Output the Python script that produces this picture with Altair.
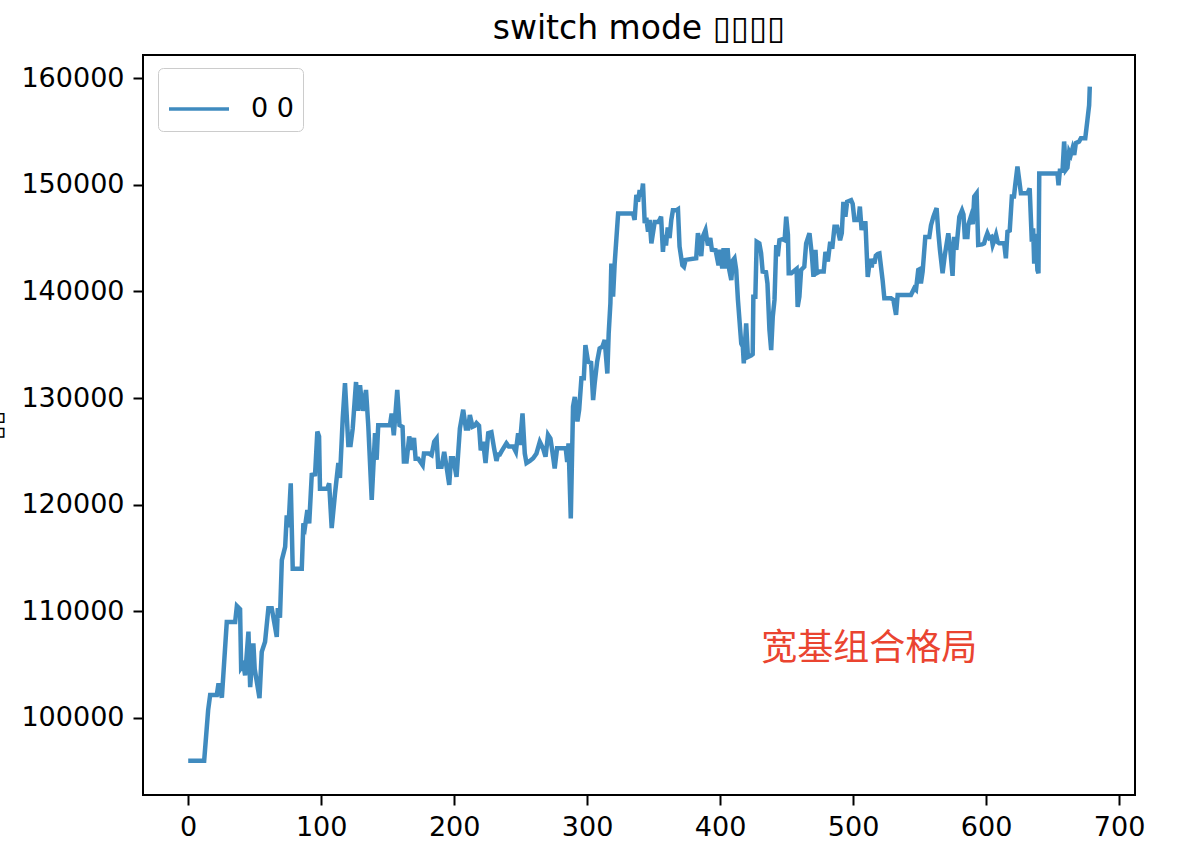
import altair as alt
import pandas as pd

# ---- data ----
steps = [0, 12, 15, 16.5, 21.5, 22.8, 25.3, 29, 35.3, 36.6, 39, 39.8, 41.5, 42.8, 45.3, 46.6, 49, 50, 53.6, 55.3,
         57.8, 60.3, 62.8, 65.3, 66.6, 67.4, 69, 70.4, 72.9, 74.1, 75.4, 77.1, 78.6, 85.4, 86.6, 87.8, 89.6, 91, 92.9, 95.4,
         97.1, 98.4, 99.1, 104.6, 106, 107.9, 110.4, 112.9, 114.1, 116.2, 117.9, 120.4, 122.1, 123.7, 126.2, 127.5, 129.2, 131.2, 133.7, 135.4,
         138, 140.5, 141.7, 142.9, 151.7, 153, 154.6, 157.2, 158.9, 161.2, 162.2, 164.2, 166.2, 168, 169.8, 171, 173, 176.3, 177.3, 181,
         183, 185, 186.8, 188, 190.5, 192.5, 194.3, 196.3, 197.6, 199.3, 200.5, 201.8, 204.3, 206.8, 208.8, 210.5, 211.8, 213.8, 215.5, 216.8,
         218.7, 220, 221.8, 223.6, 225.6, 228, 230, 231.8, 233, 234.3, 235.6, 239.3, 241.1, 244.4, 246.4, 248.1, 249.4, 251.4, 253.1, 254.4,
         256.9, 259.4, 261.9, 264.4, 266.9, 268.7, 270.6, 272.4, 274.4, 275.6, 277.4, 279.4, 283.9, 285, 286, 287.7, 289.4, 290.7, 292, 292.7,
         294, 295.7, 297.5, 298.7, 300.7, 303, 304.5, 305.7, 307.5, 309.4, 311.5, 313.2, 315.2, 316.2, 317.5, 318.2, 319.5, 320.7, 323.3, 334.5,
         335.7, 337, 338.3, 339.5, 340.8, 342, 343.3, 344.5, 345.8, 347, 348.3, 350.8, 353.3, 354.5, 355.6, 357, 358, 359.3, 360.6, 362,
         363.3, 364.5, 367, 368.3, 369.5, 371.6, 372.8, 374, 382, 383.3, 384.5, 385.8, 387, 389, 390.8, 392.6, 393.8, 396.6, 398.8, 400,
         401.6, 402.6, 404, 405.6, 406.9, 408.4, 409.6, 410.8, 412.1, 413.4, 415.9, 417.1, 417.8, 419.6, 420.9, 423.5, 424.5, 425, 426.5, 427.5,
         429.5, 430.8, 432, 434.5, 435.6, 437.1, 438.4, 439.6, 440.9, 442.2, 443.4, 444.6, 447, 448.5, 449.7, 451, 451.6, 453.5, 456.5, 457.5,
         458.3, 459.6, 460.9, 463.3, 464.7, 467.2, 469, 470.2, 471.7, 472.7, 475, 477.9, 479.2, 481, 482.8, 484.3, 486, 488, 490.2, 491.5,
         492.7, 494.2, 495.5, 498.5, 499.7, 501, 504, 505.1, 506.4, 507.7, 509.3, 511, 512.8, 514, 514.8, 516, 517.1, 518.5, 519.8, 522.2,
         523.5, 528.5, 530.3, 532.3, 533.5, 543.5, 546, 547.3, 549, 550.5, 551, 552.3, 554.3, 557.3, 558.6, 560.4, 562.8, 564, 565.3, 567.3,
         569, 571.6, 573.1, 574.8, 576, 577.6, 579.9, 581.9, 583, 584, 586, 586.6, 588.6, 590, 591.1, 592.9, 594.1, 597, 598.5, 599.7,
         601, 602.5, 604, 605, 606.3, 607.5, 608.8, 609.9, 613.6, 614.9, 616.1, 617.8, 619.4, 621, 621.9, 623.6, 624.9, 626.2, 631.2, 632.8,
         634.4, 635.4, 636.2, 637.4, 638.6, 639.4, 640, 653.7, 654.5, 655.5, 657.5, 658.7, 660, 661.2, 662.5, 663.7, 665, 666.3, 667.5, 670,
         671.3, 674.6, 676.2, 677.5, 678]

values = [96000, 96000, 100750, 102150, 102150, 103250, 101900, 109000, 109000, 110500, 110200, 104700, 105000, 104000, 108100, 102900, 107000, 104600, 101850, 106200,
          107150, 110300, 110300, 108550, 107600, 110300, 109400, 114800, 116050, 119000, 117900, 122000, 114000, 114000, 118250, 117900, 119500, 118250, 122800, 122850,
          126850, 126400, 121500, 121500, 122000, 117800, 121050, 123900, 122500, 128100, 131400, 125600, 125600, 127150, 131500, 128800, 131200, 128800, 130750, 127450,
          120450, 126700, 124200, 127450, 127450, 128550, 126500, 130750, 127450, 127300, 124050, 124050, 126400, 125150, 126250, 124300, 124300, 123700, 124800, 124800,
          124650, 125900, 126200, 123550, 123550, 124950, 123550, 121850, 124350, 124350, 123500, 122600, 127150, 128900, 127150, 127150, 128400, 127300, 127400, 127650,
          127400, 125100, 125900, 123900, 126700, 126800, 125300, 124100, 124700, 124700, 125000, 125750, 125450, 125450, 124950, 126700, 125600, 128550, 124800, 123900,
          124100, 124350, 124800, 125900, 125250, 124500, 126550, 126200, 124500, 123400, 125300, 125300, 125300, 124000, 125750, 118700, 129200, 130100, 128900, 127800,
          128900, 131850, 131850, 134950, 133400, 133300, 129800, 131400, 133400, 134650, 134800, 135450, 132300, 136050, 138900, 142600, 139500, 142600, 147300, 147300,
          146700, 149050, 148400, 149500, 148900, 150100, 146400, 146900, 145600, 146700, 144500, 146500, 146500, 146700, 147000, 143700, 145300, 144300, 146000, 145000,
          146700, 147600, 147600, 147700, 144200, 142450, 142300, 142950, 143100, 145450, 144700, 143300, 145150, 145750, 144300, 145000, 143900, 143850, 142450, 143900,
          142150, 144050, 142150, 144050, 142000, 141050, 142900, 143100, 142000, 139200, 135100, 134800, 133250, 137000, 133850, 134000, 134100, 139500, 139500, 144650,
          144500, 143600, 141850, 141800, 140750, 136400, 134500, 137650, 139200, 144350, 143300, 144800, 144900, 144800, 147000, 145300, 141700, 141700, 142000, 142100,
          138550, 139500, 142000, 142300, 144500, 145450, 143400, 141350, 143900, 141700, 141850, 141850, 143700, 142800, 144650, 144000, 146050, 146050, 144800, 145450,
          148400, 147000, 148400, 148550, 148200, 146700, 146700, 147950, 145750, 146450, 146400, 141350, 143050, 142250, 143050, 142600, 143350, 143500, 143550, 141050,
          139350, 139350, 139200, 137800, 139650, 139650, 140300, 140150, 142000, 142100, 140750, 141850, 145100, 145100, 146200, 147000, 147800, 145650, 143900, 141700,
          143400, 145450, 143900, 141450, 145100, 143900, 147000, 147600, 147200, 145100, 145100, 146200, 147000, 146300, 148900, 149200, 144350, 144400, 144500, 145000,
          145450, 145000, 145100, 144350, 144800, 145300, 144600, 144500, 144500, 143100, 145600, 145700, 148900, 148900, 149950, 151700, 150450, 149200, 149200, 149650,
          144650, 145900, 142600, 145400, 142000, 141700, 151050, 151050, 149950, 151300, 151300, 154050, 151400, 151600, 153100, 152800, 153400, 152800, 153900, 154050,
          154350, 154350, 156050, 157450, 159200]

series_name = ["0 0"]
title_text = "switch mode ▯▯▯▯"
x_label = "▯▯"
y_label = "▯▯"
note_text = ["宽基组合格局"]
note_x = [431]
note_y = [105400]
x_ticks = [0, 100, 200, 300, 400, 500, 600, 700]
y_ticks = [100000, 110000, 120000, 130000, 140000, 150000, 160000]

df = pd.DataFrame({"step": steps, "value": values, "series": series_name * len(steps)})
note_df = pd.DataFrame({"x": note_x, "y": note_y, "text": note_text})

FONT = "DejaVu Sans"

x_scale = alt.Scale(domain=[-34, 712], nice=False, zero=False)
y_scale = alt.Scale(domain=[92780, 162160], nice=False, zero=False)

line = alt.Chart(df).mark_line(strokeWidth=4.5, opacity=0.85).encode(
    x=alt.X("step:Q", scale=x_scale,
            axis=alt.Axis(values=x_ticks, format="d", title=x_label,
                          titleX=496, titleY=81, titleBaseline="alphabetic",
                          titleAlign="center")),
    y=alt.Y("value:Q", scale=y_scale,
            axis=alt.Axis(values=y_ticks, format="d", title=y_label,
                          titleX=-143, titleY=370, titleAngle=270,
                          titleBaseline="alphabetic", titleAlign="center")),
    color=alt.Color("series:N", scale=alt.Scale(domain=series_name, range=["#1f77b4"]),
                    legend=alt.Legend(title=None)),
)

note = alt.Chart(note_df).mark_text(
    align="left", baseline="alphabetic", font="Noto Sans CJK SC", fontSize=36, color="#ea4430"
).encode(
    x=alt.X("x:Q", scale=x_scale),
    y=alt.Y("y:Q", scale=y_scale),
    text="text:N",
)

chart = (line + note).properties(
    width=992, height=740,
    autosize=alt.AutoSizeParams(type="none"),
    padding={"left": 143, "top": 55, "right": 61, "bottom": 63},
    title=alt.TitleParams(title_text, font=FONT, fontSize=33, fontWeight="normal",
                          color="black", anchor="middle", offset=9, frame="group"),
).configure(
    background="white"
).configure_view(
    stroke="black", strokeWidth=2
).configure_axis(
    domain=False, grid=False,
    ticks=True, tickSize=10, tickWidth=2, tickColor="black",
    labelFont=FONT, labelFontSize=27, labelColor="black", labelPadding=9,
    titleFont=FONT, titleFontSize=27, titleColor="black", titleFontWeight="normal",
    labelFlush=False, labelOverlap=False,
).configure_legend(
    orient="none", legendX=15, legendY=13,
    fillColor="white", strokeColor="#cccccc", cornerRadius=5, padding=9,
    labelFont=FONT, labelFontSize=27, labelColor="black", labelOffset=20,
    symbolType="stroke", symbolSize=3600, symbolStrokeWidth=3.5, symbolOpacity=0.85,
)

chart.save("out.html", embed_options={"renderer": "svg", "actions": False})
